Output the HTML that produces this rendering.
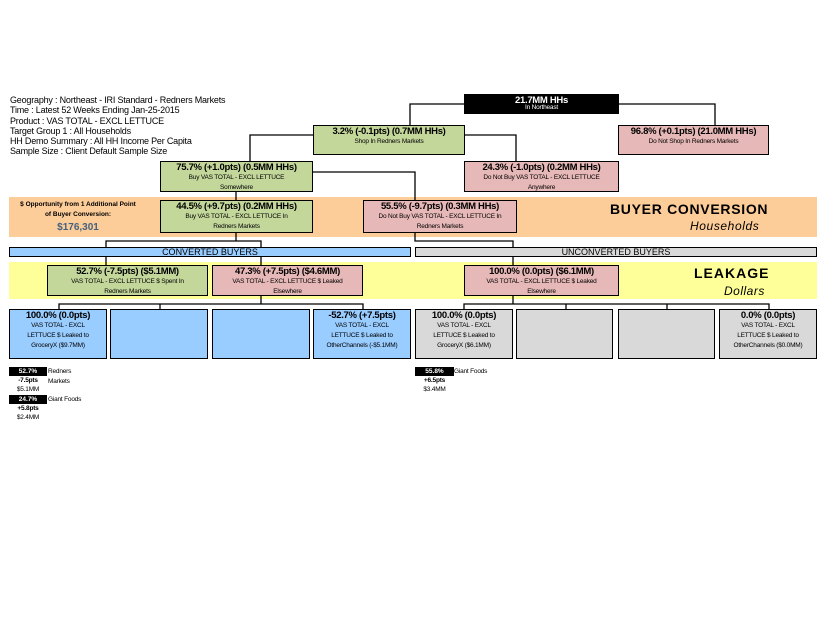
<!DOCTYPE html>
<html><head><meta charset="utf-8"><style>
*{margin:0;padding:0;box-sizing:border-box}
body{width:825px;height:638px;background:#fff;position:relative;overflow:hidden;font-family:"Liberation Sans",Arial,sans-serif;color:#000}
.a{position:absolute}
.bx{position:absolute;border:1.3px solid #000;text-align:center;line-height:10px}
.t{font-size:9.5px;font-weight:bold;letter-spacing:-0.3px;display:block;padding-top:1px}
.s{font-size:6.5px;line-height:10px;letter-spacing:-0.2px;display:block}
.g{background:#c4d79b}.p{background:#e6b8b7}.b{background:#99ccff}.gr{background:#d9d9d9}
.hd{font-size:9px;line-height:10.3px;letter-spacing:-0.2px}
.lg{font-size:6.5px;position:absolute;letter-spacing:-0.2px}
</style></head><body>
<div class="a" style="left:9px;top:197px;width:808px;height:40px;background:#fccc99"></div>
<div class="a" style="left:9px;top:262px;width:808px;height:37px;background:#ffff99"></div>
<svg class="a" style="left:0;top:0" width="825" height="638">
<g stroke="#000" stroke-width="1.3" fill="none">
<polyline points="464,104 410,104 410,125"/>
<polyline points="619,104 715,104 715,125"/>
<polyline points="313,135 250,135 250,161"/>
<polyline points="465,135 516,135 516,161"/>
<polyline points="313,172 415,172 415,200"/>
<line x1="236" y1="192" x2="236" y2="200"/>
<polyline points="236,233 236,241"/>
<polyline points="106,247 106,241 261,241 261,247"/>
<polyline points="415,233 415,241 513,241 513,247"/>
<line x1="106" y1="256" x2="106" y2="265"/>
<line x1="261" y1="256" x2="261" y2="265"/>
<line x1="513" y1="256" x2="513" y2="265"/>
<line x1="261" y1="296" x2="261" y2="304"/>
<polyline points="59,309 59,304 363,304 363,309"/>
<line x1="160" y1="304" x2="160" y2="309"/>
<line x1="513" y1="296" x2="513" y2="304"/>
<polyline points="464,309 464,304 769,304 769,309"/>
<line x1="566" y1="304" x2="566" y2="309"/>
<line x1="667" y1="304" x2="667" y2="309"/>
</g></svg>
<div class="a hd" style="left:10px;top:95px">Geography : Northeast - IRI Standard - Redners Markets<br>Time : Latest 52 Weeks Ending Jan-25-2015<br>Product : VAS TOTAL - EXCL LETTUCE<br>Target Group 1 : All Households<br>HH Demo Summary : All HH Income Per Capita<br>Sample Size : Client Default Sample Size</div>

<div class="bx" style="left:464px;top:94px;width:155px;height:20px;background:#000;color:#fff"><span class="t" style="line-height:9px;padding-top:1px">21.7MM HHs</span><span class="s" style="line-height:6px">In Northeast</span></div>
<div class="bx g" style="left:313px;top:125px;width:152px;height:30px"><span class="t">3.2% (-0.1pts) (0.7MM HHs)</span><span class="s">Shop In Redners Markets</span></div>
<div class="bx p" style="left:618px;top:125px;width:151px;height:30px"><span class="t">96.8% (+0.1pts) (21.0MM HHs)</span><span class="s">Do Not Shop In Redners Markets</span></div>
<div class="bx g" style="left:160px;top:161px;width:153px;height:31px"><span class="t">75.7% (+1.0pts) (0.5MM HHs)</span><span class="s">Buy VAS TOTAL - EXCL LETTUCE<br>Somewhere</span></div>
<div class="bx p" style="left:464px;top:161px;width:155px;height:31px"><span class="t">24.3% (-1.0pts) (0.2MM HHs)</span><span class="s">Do Not Buy VAS TOTAL - EXCL LETTUCE<br>Anywhere</span></div>
<div class="bx g" style="left:160px;top:200px;width:153px;height:33px"><span class="t">44.5% (+9.7pts) (0.2MM HHs)</span><span class="s">Buy VAS TOTAL - EXCL LETTUCE In<br>Redners Markets</span></div>
<div class="bx p" style="left:363px;top:200px;width:154px;height:33px"><span class="t">55.5% (-9.7pts) (0.3MM HHs)</span><span class="s">Do Not Buy VAS TOTAL - EXCL LETTUCE In<br>Redners Markets</span></div>

<div class="a" style="left:9px;top:200px;width:138px;text-align:center;font-size:6.5px;font-weight:bold;line-height:10px">$ Opportunity from 1 Additional Point<br>of Buyer Conversion:</div>
<div class="a" style="left:9px;top:222px;width:138px;text-align:center;font-size:10px;font-weight:bold;color:#44607f">$176,301</div>
<div class="a" style="left:610px;top:201px;font-size:14px;font-weight:bold;letter-spacing:0.7px">BUYER CONVERSION</div>
<div class="a" style="left:690px;top:219px;font-size:12px;font-style:italic;letter-spacing:0.6px">Households</div>

<div class="bx b" style="left:9px;top:247px;width:402px;height:10px;font-size:9px;line-height:8px">CONVERTED BUYERS</div>
<div class="bx gr" style="left:415px;top:247px;width:402px;height:10px;font-size:9px;line-height:8px">UNCONVERTED BUYERS</div>

<div class="bx g" style="left:47px;top:265px;width:161px;height:31px"><span class="t">52.7% (-7.5pts) ($5.1MM)</span><span class="s">VAS TOTAL - EXCL LETTUCE $ Spent In<br>Redners Markets</span></div>
<div class="bx p" style="left:212px;top:265px;width:151px;height:31px"><span class="t">47.3% (+7.5pts) ($4.6MM)</span><span class="s">VAS TOTAL - EXCL LETTUCE $ Leaked<br>Elsewhere</span></div>
<div class="bx p" style="left:464px;top:265px;width:155px;height:31px"><span class="t">100.0% (0.0pts) ($6.1MM)</span><span class="s">VAS TOTAL - EXCL LETTUCE $ Leaked<br>Elsewhere</span></div>
<div class="a" style="left:694px;top:265px;font-size:14px;font-weight:bold;letter-spacing:1px">LEAKAGE</div>
<div class="a" style="left:724px;top:284px;font-size:12px;font-style:italic;letter-spacing:0.5px">Dollars</div>

<div class="bx b" style="left:9px;top:309px;width:98px;height:50px"><span class="t">100.0% (0.0pts)</span><span class="s">VAS TOTAL - EXCL<br>LETTUCE $ Leaked to<br>GroceryX ($9.7MM)</span></div>
<div class="bx b" style="left:110px;top:309px;width:98px;height:50px"></div>
<div class="bx b" style="left:212px;top:309px;width:98px;height:50px"></div>
<div class="bx b" style="left:313px;top:309px;width:98px;height:50px"><span class="t">-52.7% (+7.5pts)</span><span class="s">VAS TOTAL - EXCL<br>LETTUCE $ Leaked to<br>OtherChannels (-$5.1MM)</span></div>
<div class="bx gr" style="left:415px;top:309px;width:98px;height:50px"><span class="t">100.0% (0.0pts)</span><span class="s">VAS TOTAL - EXCL<br>LETTUCE $ Leaked to<br>GroceryX ($6.1MM)</span></div>
<div class="bx gr" style="left:516px;top:309px;width:97px;height:50px"></div>
<div class="bx gr" style="left:618px;top:309px;width:97px;height:50px"></div>
<div class="bx gr" style="left:719px;top:309px;width:98px;height:50px"><span class="t">0.0% (0.0pts)</span><span class="s">VAS TOTAL - EXCL<br>LETTUCE $ Leaked to<br>OtherChannels ($0.0MM)</span></div>

<div class="a" style="left:9px;top:367px;width:38px;height:9px;background:#000;color:#fff;font-size:6.5px;font-weight:bold;text-align:center;line-height:9px">52.7%</div>
<div class="lg" style="left:9px;top:377px;width:38px;text-align:center;font-weight:bold">-7.5pts</div>
<div class="lg" style="left:9px;top:386px;width:38px;text-align:center">$5.1MM</div>
<div class="lg" style="left:48px;top:367px;line-height:10px">Redners<br>Markets</div>
<div class="a" style="left:9px;top:395px;width:38px;height:9px;background:#000;color:#fff;font-size:6.5px;font-weight:bold;text-align:center;line-height:9px">24.7%</div>
<div class="lg" style="left:9px;top:405px;width:38px;text-align:center;font-weight:bold">+5.8pts</div>
<div class="lg" style="left:9px;top:414px;width:38px;text-align:center">$2.4MM</div>
<div class="lg" style="left:48px;top:396px">Giant Foods</div>

<div class="a" style="left:415px;top:367px;width:39px;height:9px;background:#000;color:#fff;font-size:6.5px;font-weight:bold;text-align:center;line-height:9px">55.8%</div>
<div class="lg" style="left:415px;top:377px;width:39px;text-align:center;font-weight:bold">+6.5pts</div>
<div class="lg" style="left:415px;top:386px;width:39px;text-align:center">$3.4MM</div>
<div class="lg" style="left:454px;top:368px">Giant Foods</div>
</body></html>
